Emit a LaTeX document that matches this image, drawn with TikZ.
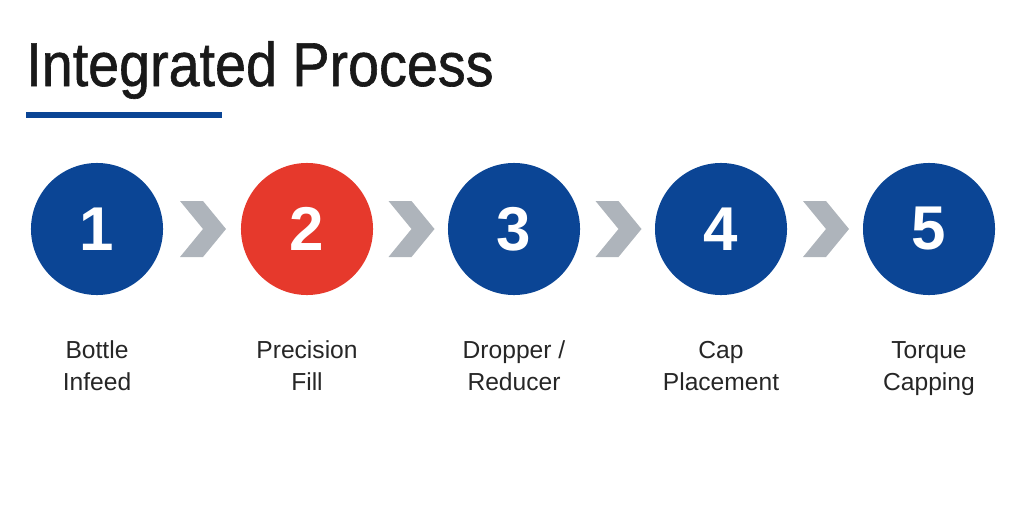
\documentclass[tikz,border=0pt]{standalone}
\usepackage{fontspec}
\setmainfont{Liberation Sans}
\usetikzlibrary{calc,positioning}
\definecolor{stepblue}{HTML}{0B4595}
\definecolor{stepred}{HTML}{E6392C}
\definecolor{chevgray}{HTML}{AEB4BB}

\begin{document}
\begin{tikzpicture}[x=0.025cm,y=-0.025cm,
    stage/.style={circle,fill=stepblue,minimum size=3.3cm,inner sep=0pt,
      text=white,font=\fontsize{44}{44}\selectfont\bfseries},
    lbl/.style={align=center,anchor=base,font=\fontsize{17.5}{22.5}\selectfont,text=black!85}]
    \useasboundingbox (0,0) rectangle (1024,512);
    \node[anchor=base west,inner sep=0pt,xscale=0.9,transform shape,
      font=\fontsize{44}{44}\selectfont,text=black!90] (title) at (26,86)
      {\addfontfeature{FakeBold=1}Integrated Process};
    \fill[stepblue] (26,112) rectangle (222,118);

    \node[stage] (s1) at (97,229) {1};
    \node[stage,fill=stepred] (s2) at (307,229) {2};
    \node[stage] (s3) at (514,229) {3};
    \node[stage] (s4) at (721,229) {4};
    \node[stage] (s5) at (929,229) {5};

    \foreach \a/\b in {s1/s2,s2/s3,s3/s4,s4/s5}
    \fill[chevgray] ($(\a)!0.5!(\b)$) ++(-22,-28) -- ++(23,0) -- ++(23,28)
      -- ++(-23,28) -- ++(-23,0) -- ++(23,-28) -- cycle;

    \node[lbl] (l1) at (97,390) {Bottle\\Infeed};
    \node[lbl] (l2) at (307,390) {Precision\\Fill};
    \node[lbl] (l3) at (514,390) {Dropper /\\Reducer};
    \node[lbl] (l4) at (721,390) {Cap\\Placement};
    \node[lbl] (l5) at (929,390) {Torque\\Capping};
\end{tikzpicture}
\end{document}
